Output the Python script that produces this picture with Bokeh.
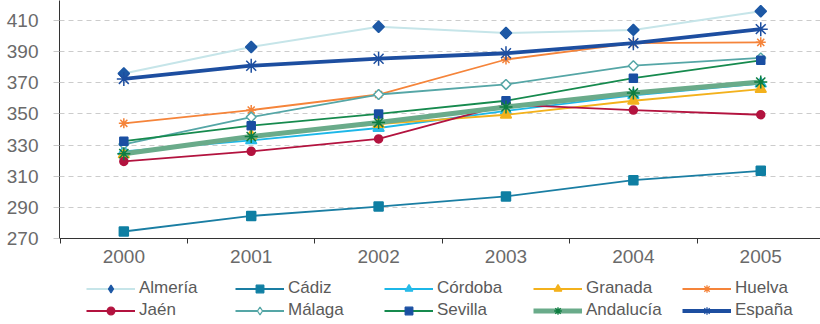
from bokeh.plotting import figure
from bokeh.layouts import column
from bokeh.models import Legend, LegendItem, FixedTicker, Range1d
from bokeh.embed import file_html
from bokeh.resources import INLINE

years = [2000, 2001, 2002, 2003, 2004, 2005]
year_labels = ["2000", "2001", "2002", "2003", "2004", "2005"]
y_ticks = [270, 290, 310, 330, 350, 370, 390, 410]

almeria = [376, 393, 406, 402, 404, 416]
cadiz = [274.5, 284.5, 290.5, 297, 307.5, 313.5]
cordoba = [326, 333, 341, 352, 362, 369.5]
granada = [324, 336, 343.5, 349.5, 358.5, 366]
huelva = [344, 352.5, 362.5, 385, 395.5, 396]
jaen = [319.5, 326, 334, 356, 352.5, 349.5]
malaga = [330.5, 348, 362.5, 369, 381, 386]
sevilla = [332.5, 342.5, 350, 358.5, 373, 384.5]
andalucia = [324.5, 335.5, 344.5, 354.5, 363.5, 370.5]
espana = [372.5, 381, 385.5, 389, 395.5, 404.5]

D45 = 0.7853981634
series = [
    ("Almería", almeria, dict(lc="#c6e5e9", lw=2, m="square", lm="diamond", a=D45, ms=8, lms=10, fc="#1d58a5", mc="#1d58a5")),
    ("Cádiz", cadiz, dict(lc="#1a7ea3", lw=1.8, m="square", lm="square", a=0, ms=9, lms=7, fc="#0f7fa3", mc="#0f7fa3")),
    ("Córdoba", cordoba, dict(lc="#1cb7e8", lw=1.8, m="triangle", lm="triangle", a=0, ms=11, lms=9, fc="#28bbe8", mc="#28bbe8")),
    ("Granada", granada, dict(lc="#f3b11c", lw=1.8, m="triangle", lm="triangle", a=0, ms=11, lms=8, fc="#f3b11c", mc="#f3b11c")),
    ("Huelva", huelva, dict(lc="#f5843a", lw=1.8, m="asterisk", lm="asterisk", a=0, ms=10, lms=8, fc="#f5843a", mc="#f5843a")),
    ("Jaén", jaen, dict(lc="#b3133f", lw=1.8, m="circle", lm="circle", a=0, ms=8, lms=6, fc="#b3133f", mc="#b3133f")),
    ("Málaga", malaga, dict(lc="#55a6a6", lw=1.8, m="square", lm="diamond", a=D45, ms=7, lms=9, fc="white", mc="#55a6a6")),
    ("Sevilla", sevilla, dict(lc="#168a4e", lw=1.8, m="square", lm="square", a=0, ms=8, lms=6, fc="#1a4fa2", mc="#1a4fa2")),
    ("Andalucía", andalucia, dict(lc="#6aab8a", lw=5, m="asterisk", lm="asterisk", a=0, ms=13, lms=9, fc="#0e7d40", mc="#0e7d40")),
    ("España", espana, dict(lc="#1d4ea0", lw=3.8, m="asterisk", lm="asterisk", a=0, ms=14, lms=9, fc="#1d4ea0", mc="#1d4ea0")),
]

FONT = "Liberation Sans"

p = figure(width=820, height=268, output_backend="svg", toolbar_location=None,
           x_range=Range1d(1999.495, 2005.469), y_range=Range1d(270, 422.9),
           min_border_left=59, min_border_top=0, min_border_right=0, min_border_bottom=30)
p.outline_line_color = None

for name, vals, st in series:
    p.line(years, vals, line_color=st["lc"], line_width=st["lw"])
    p.scatter(years, vals, marker=st["m"], angle=st["a"], size=st["ms"], fill_color=st["fc"],
              line_color=st["mc"], line_width=1.5)

p.yaxis.ticker = FixedTicker(ticks=y_ticks)
p.yaxis.major_label_text_font = FONT
p.yaxis.major_label_text_font_size = "19px"
p.yaxis.major_label_text_color = "#6a6a6a"
p.yaxis.major_tick_out = 6
p.yaxis.major_tick_in = 0
p.yaxis.major_tick_line_color = "#c8c8c8"
p.yaxis.minor_tick_line_color = None
p.yaxis.axis_line_color = "#333333"
p.yaxis.major_label_standoff = 15

p.xaxis.ticker = FixedTicker(ticks=years, minor_ticks=[1999.5] + [y + 0.5 for y in years[:-1]])
p.xaxis.major_label_overrides = {y: l for y, l in zip(years, year_labels)}
p.xaxis.major_label_text_font = FONT
p.xaxis.major_label_text_font_size = "19px"
p.xaxis.major_label_text_color = "#6a6a6a"
p.xaxis.major_tick_out = 0
p.xaxis.major_tick_in = 0
p.xaxis.minor_tick_out = 5
p.xaxis.minor_tick_in = 0
p.xaxis.minor_tick_line_color = "#333333"
p.xaxis.axis_line_color = "#333333"
p.xaxis.major_label_standoff = 6

p.xgrid.grid_line_color = None
p.ygrid.ticker = FixedTicker(ticks=y_ticks[1:])
p.ygrid.grid_line_color = "#cccccc"
p.ygrid.grid_line_dash = "5 4"

# legend figure (its ranges keep the copied series off-screen; only the legend shows)
q = figure(width=820, height=56, output_backend="svg", toolbar_location=None,
           x_range=Range1d(0, 1), y_range=Range1d(0, 1),
           x_axis_location=None, y_axis_location=None,
           min_border_left=0, min_border_top=0, min_border_right=0, min_border_bottom=0)
q.outline_line_color = None
q.xgrid.grid_line_color = None
q.ygrid.grid_line_color = None

items = []
for name, vals, st in series:
    r1 = q.line(years, vals, line_color=st["lc"], line_width=st["lw"])
    r2 = q.scatter(years, vals, marker=st["lm"], size=st["lms"], fill_color=st["fc"],
                   line_color=st["mc"], line_width=1.3)
    items.append(LegendItem(label=name, renderers=[r1, r2]))

legend = Legend(items=items, orientation="horizontal", nrows=2, location=(27, 4),
                glyph_width=49, glyph_height=19, label_height=19, label_width=94,
                label_standoff=4, spacing=2, padding=0, margin=0,
                label_text_font=FONT, label_text_font_size="17px",
                label_text_color="#5a5a5a", border_line_color=None,
                background_fill_alpha=0)
q.add_layout(legend, "center")

layout = column(p, q, spacing=0)
open("out.html", "w").write(file_html(layout, INLINE))
